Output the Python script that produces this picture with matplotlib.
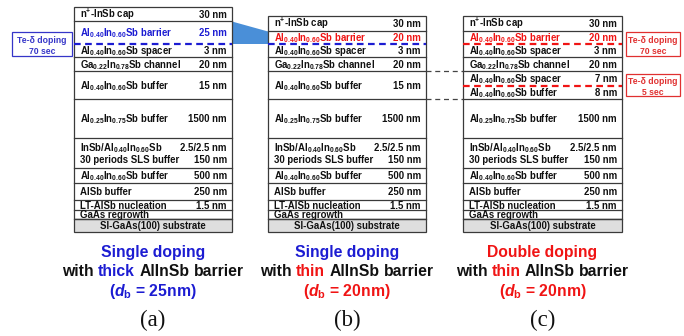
import matplotlib
matplotlib.use("Agg")
import matplotlib.pyplot as plt
from matplotlib.patches import Rectangle, Polygon

plt.rcParams.update({
    "font.family": ["Liberation Sans", "DejaVu Sans"],
    "font.weight": "bold",
    "mathtext.fontset": "custom",
    "mathtext.rm": "Liberation Sans:bold",
    "mathtext.it": "Liberation Sans:italic:bold",
    "mathtext.bf": "Liberation Sans:bold",
    "mathtext.default": "rm",
})

BLUE = "#1c1cd2"
RED = "#f01414"
BLACK = "#111111"
EDGE = "#3a3a3a"

AL40 = "Al$_{0.40}$In$_{0.60}$Sb"

# ---- layer stacks (label, thickness) ----
top_layers_a = [("n$^{+}$-InSb cap", "30 nm"),
                (AL40 + " barrier", "25 nm"),
                (AL40 + " spacer", "3 nm"),
                ("Ga$_{0.22}$In$_{0.78}$Sb channel", "20 nm"),
                (AL40 + " buffer", "15 nm")]
top_layers_b = [("n$^{+}$-InSb cap", "30 nm"),
                (AL40 + " barrier", "20 nm"),
                (AL40 + " spacer", "3 nm"),
                ("Ga$_{0.22}$In$_{0.78}$Sb channel", "20 nm"),
                (AL40 + " buffer", "15 nm")]
top_layers_c = [("n$^{+}$-InSb cap", "30 nm"),
                (AL40 + " barrier", "20 nm"),
                (AL40 + " spacer", "3 nm"),
                ("Ga$_{0.22}$In$_{0.78}$Sb channel", "20 nm"),
                (AL40 + " spacer", "7 nm"),
                (AL40 + " buffer", "8 nm")]
lower_layers = [("Al$_{0.25}$In$_{0.75}$Sb buffer", "1500 nm"),
                (("InSb/" + AL40, "30 periods SLS buffer"), ("2.5/2.5 nm", "150 nm")),
                (AL40 + " buffer", "500 nm"),
                ("AlSb buffer", "250 nm"),
                ("LT-AlSb nucleation", "1.5 nm"),
                ("GaAs regrowth", "")]
substrate_label = "SI-GaAs(100) substrate"

doping_a = [("Te-δ doping", "70 sec")]
doping_c = [("Te-δ doping", "70 sec"), ("Te-δ doping", "5 sec")]

captions = [
    [[("Single doping", BLUE)],
     [("with", BLACK), ("thick", BLUE), ("AlInSb", BLACK), ("barrier", BLACK)],
     [("($\\mathit{d}_{\\mathrm{b}}$ = 25nm)", BLUE)]],
    [[("Single doping", BLUE)],
     [("with", BLACK), ("thin", RED), ("AlInSb", BLACK), ("barrier", BLACK)],
     [("($\\mathit{d}_{\\mathrm{b}}$ = 20nm)", RED)]],
    [[("Double doping", RED)],
     [("with", BLACK), ("thin", RED), ("AlInSb", BLACK), ("barrier", BLACK)],
     [("($\\mathit{d}_{\\mathrm{b}}$ = 20nm)", RED)]],
]
panel_tags = ["(a)", "(b)", "(c)"]

# ---- geometry in pixel units ----
W, H = 684, 336
panel_x = [(74, 232), (268, 426), (463, 622)]
top_edges = [[7, 21, 44, 57, 71, 99],
             [16, 30.5, 44, 57, 71, 99],
             [16, 30.5, 44, 57, 71, 85.5, 99]]
lower_edges = [99, 138, 168, 183, 199.5, 210, 219]
sub_edges = (219, 232)
barrier_color = [BLUE, RED, RED]
dashed_rows = [[(44, BLUE)], [(44, BLUE)], [(44, RED), (85.5, RED)]]

fig = plt.figure(figsize=(W / 100, H / 100), dpi=100)
ax = fig.add_axes([0, 0, 1, 1])
ax.set_xlim(0, W)
ax.set_ylim(H, 0)
ax.axis("off")
renderer = fig.canvas.get_renderer()

FS = 6.9
CAP = 0.72 * FS * 100 / 72  # cap height in px
BFS = 6.2
BCAP = 0.72 * BFS * 100 / 72


def row_text(x0, x1, yc, label, value, color):
    yb = yc + CAP / 2
    ax.text(x0 + 6, yb, label, fontsize=FS, color=color, ha="left", va="baseline")
    if value:
        ax.text(x1 - 5, yb, value, fontsize=FS, color=color, ha="right", va="baseline")


def draw_panel(i, layers):
    x0, x1 = panel_x[i]
    edges = top_edges[i]
    dashed = [y for y, _ in dashed_rows[i]]
    # substrate
    ax.add_patch(Rectangle((x0, sub_edges[0]), x1 - x0, sub_edges[1] - sub_edges[0],
                           facecolor="#dedede", edgecolor=EDGE, lw=0.9, zorder=2))
    ax.text((x0 + x1) / 2, (sub_edges[0] + sub_edges[1]) / 2 + 0.5 + CAP / 2, substrate_label,
            fontsize=FS, color=BLACK, ha="center", va="baseline", zorder=3)
    # outer frame
    ax.add_patch(Rectangle((x0, edges[0]), x1 - x0, sub_edges[0] - edges[0],
                           facecolor="white", edgecolor=EDGE, lw=0.9, zorder=1))
    for y in edges[1:] + lower_edges[1:]:
        if y in dashed:
            continue
        ax.plot([x0, x1], [y, y], color=EDGE, lw=0.9, zorder=2)
    for y, c in dashed_rows[i]:
        ax.plot([x0, x1], [y, y], color=c, lw=1.6, ls=(0, (3, 2)), zorder=3)
    for k, (lab, val) in enumerate(layers):
        yc = (edges[k] + edges[k + 1]) / 2 + 0.5
        col = barrier_color[i] if "barrier" in lab else BLACK
        row_text(x0, x1, yc, lab, val, col)
    for k, (lab, val) in enumerate(lower_layers):
        yc = (lower_edges[k] + lower_edges[k + 1]) / 2 + 0.5
        if isinstance(lab, tuple):
            row_text(x0, x1, yc - 6, lab[0], val[0], BLACK)
            row_text(x0, x1, yc + 6, lab[1], val[1], BLACK)
        else:
            row_text(x0, x1, yc, lab, val, BLACK)


draw_panel(0, top_layers_a)
draw_panel(1, top_layers_b)
draw_panel(2, top_layers_c)

# blue wedge linking the barrier layers of (a) and (b)
ax.add_patch(Polygon([(232, 21.5), (268, 31.5), (268, 44), (232, 44)],
                     closed=True, facecolor="#4a8fd8", edgecolor="none", zorder=0.5))

# dashed guides from (b) to the split buffer in (c)
for y in (71, 99):
    ax.plot([426, 463], [y, y], color="#444444", lw=0.9, ls=(0, (4, 3)), zorder=2)


def doping_box(x0, x1, y0, y1, lines, color):
    ax.add_patch(Rectangle((x0, y0), x1 - x0, y1 - y0, facecolor="white",
                           edgecolor=color, lw=0.9, zorder=2))
    yc = (y0 + y1) / 2
    ax.text((x0 + x1) / 2, yc - 4 + BCAP / 2, lines[0], fontsize=BFS, color=color,
            ha="center", va="baseline", zorder=3)
    ax.text((x0 + x1) / 2, yc + 6.5 + BCAP / 2, lines[1], fontsize=BFS, color=color,
            ha="center", va="baseline", zorder=3)


doping_box(12, 72, 32, 56, doping_a[0], "#3535c8")
doping_box(626, 680, 32, 56, doping_c[0], "#e03030")
doping_box(626, 680, 74, 96, doping_c[1], "#e03030")

# captions
CFS = 11.3
CCAP = 0.72 * CFS * 100 / 72
space_w = (ax.text(0, 0, "a a", fontsize=CFS).get_window_extent(renderer).width
           - ax.text(0, 0, "aa", fontsize=CFS).get_window_extent(renderer).width)
for t in list(ax.texts[-2:]):
    t.remove()


def colored_line(xc, yc, pieces):
    objs = [ax.text(0, yc + CCAP / 2, s, fontsize=CFS, color=c, ha="left", va="baseline")
            for s, c in pieces]
    widths = [o.get_window_extent(renderer).width for o in objs]
    total = sum(widths) + space_w * (len(objs) - 1)
    x = xc - total / 2
    for o, w in zip(objs, widths):
        o.set_x(x)
        x += w + space_w


cap_y = [251, 270.5, 290]
for i, lines in enumerate(captions):
    xc = (panel_x[i][0] + panel_x[i][1]) / 2
    for yc, pieces in zip(cap_y, lines):
        colored_line(xc, yc, pieces)
    ax.text(xc, 320, panel_tags[i], fontsize=16.5, family="Liberation Serif",
            fontweight="normal", color=BLACK, ha="center", va="center")

fig.savefig("out.png", dpi=100)
